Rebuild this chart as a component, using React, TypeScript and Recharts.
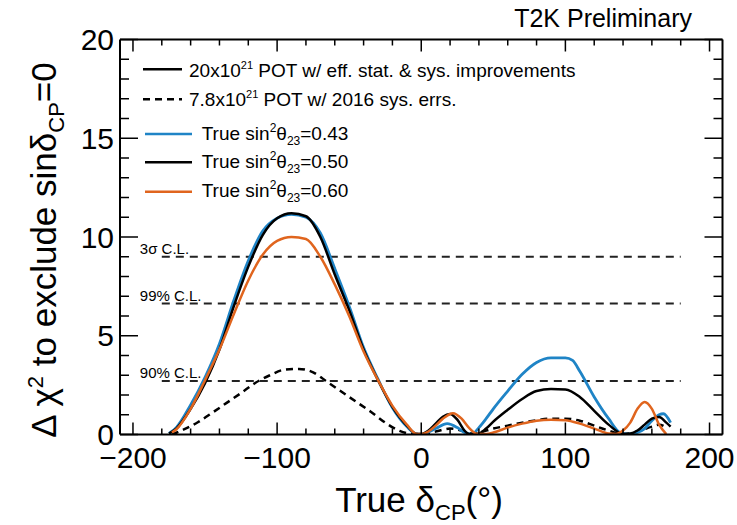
import React from "react";
import { LineChart, Line, XAxis, YAxis, ReferenceLine, Legend } from "recharts";

const FONT = "'Liberation Sans', Arial, Helvetica, sans-serif";
const BLUE = "#1f84c6";
const ORANGE = "#e0651e";

// black solid: sin^2 = 0.50, 20x10^21 POT
const blackX = [-175, -170, -160, -150, -140, -130, -120, -110, -100, -90, -80, -70, -60, -50, -40, -30, -20, -10, -3, 0, 5, 10, 15, 20, 25, 30, 34, 40, 45, 50, 60, 70, 80, 90, 100, 110, 120, 130, 140, 145, 150, 155, 160, 165, 170, 173];
const blackY = [0.05, 0.3, 1.3, 2.6, 4.3, 6.5, 8.5, 10.1, 10.95, 11.2, 11.05, 10.0, 8.1, 6.3, 4.3, 2.75, 1.4, 0.45, 0.02, 0.02, 0.2, 0.55, 0.9, 1.04, 0.75, 0.2, 0.02, 0.05, 0.3, 0.65, 1.25, 1.8, 2.2, 2.3, 2.28, 1.9, 1.2, 0.5, 0.03, 0.05, 0.2, 0.5, 0.8, 0.88, 0.6, 0.4];

// blue: sin^2 = 0.43
const blueX = [-175, -170, -160, -150, -140, -130, -120, -110, -100, -90, -80, -70, -60, -50, -40, -30, -20, -10, -3, 0, 5, 10, 18, 25, 30, 35, 40, 45, 50, 60, 70, 80, 90, 100, 105, 110, 120, 130, 138, 145, 150, 155, 160, 165, 168, 173];
const blueY = [0.05, 0.35, 1.5, 2.9, 4.6, 6.8, 8.8, 10.3, 10.95, 11.15, 11.0, 10.2, 8.4, 6.5, 4.4, 2.8, 1.35, 0.4, 0.02, 0.02, 0.12, 0.3, 0.55, 0.35, 0.1, 0.02, 0.35, 0.8, 1.3, 2.2, 3.05, 3.65, 3.88, 3.88, 3.75, 3.2, 1.9, 0.8, 0.1, 0.02, 0.1, 0.3, 0.7, 1.0, 1.05, 0.6];

// orange: sin^2 = 0.60
const orangeX = [-173, -170, -160, -150, -140, -130, -120, -110, -100, -90, -80, -70, -60, -50, -40, -30, -20, -10, -3, 0, 5, 10, 15, 22, 28, 33, 39, 45, 50, 60, 70, 80, 90, 100, 110, 120, 130, 135, 140, 145, 150, 155, 160, 165, 170];
const orangeY = [0.1, 0.25, 1.3, 2.75, 4.3, 6.1, 7.8, 9.1, 9.8, 10.0, 9.9, 9.0, 7.6, 6.0, 4.2, 2.75, 1.45, 0.5, 0.02, 0.02, 0.15, 0.45, 0.8, 1.08, 0.8, 0.35, 0.03, 0.03, 0.1, 0.35, 0.55, 0.7, 0.75, 0.72, 0.55, 0.3, 0.05, 0.03, 0.2, 0.6, 1.3, 1.65, 1.3, 0.5, 0.02];

// dashed: 7.8x10^21 POT w/ 2016 sys. errs.
const dashX = [-173, -165, -155, -145, -135, -125, -115, -105, -95, -85, -75, -65, -55, -45, -35, -25, -15, -5, 0, 10, 20, 28, 35, 40, 50, 60, 70, 80, 90, 100, 110, 120, 130, 140, 150, 160, 165, 170];
const dashY = [0, 0.25, 0.62, 1.1, 1.6, 2.1, 2.62, 3.0, 3.28, 3.32, 3.15, 2.65, 2.15, 1.65, 1.15, 0.6, 0.18, 0.02, 0.02, 0.15, 0.3, 0.2, 0.05, 0.1, 0.3, 0.45, 0.6, 0.72, 0.8, 0.8, 0.7, 0.45, 0.2, 0.03, 0.15, 0.4, 0.5, 0.35];

const clLevels = [9, 6.63, 2.71];
const clLabels = ["3σ C.L.", "99% C.L.", "90% C.L."];
const clRange = [-180, 180];

const xTicks = [-200, -180, -160, -140, -120, -100, -80, -60, -40, -20, 0, 20, 40, 60, 80, 100, 120, 140, 160, 180, 200];
const xMajor = [-200, -100, 0, 100, 200];
const yTicks = [0, 1, 2, 3, 4, 5, 6, 7, 8, 9, 10, 11, 12, 13, 14, 15, 16, 17, 18, 19, 20];
const yMajor = [0, 5, 10, 15, 20];

const toData = (xs: number[], ys: number[]) => xs.map((x, i) => ({ x, y: ys[i] }));
const fmt = (v: number) => (v < 0 ? "\u2212" + Math.abs(v) : String(v));

const XTick = ({ x, y, payload, top }: any) => {
  const major = xMajor.includes(payload.value);
  const len = major ? 12 : 6;
  return (
    <g>
      <line x1={x} x2={x} y1={y} y2={top ? y + len : y - len} stroke="#000" strokeWidth={1.5} />
      {major && !top && (
        <text x={x} y={y + 33} textAnchor="middle" fontSize={30} fontFamily={FONT} fill="#000">
          {fmt(payload.value)}
        </text>
      )}
    </g>
  );
};

const YTick = ({ x, y, payload, right }: any) => {
  const major = yMajor.includes(payload.value);
  const len = major ? 18 : 9;
  return (
    <g>
      <line x1={x} x2={right ? x - len : x + len} y1={y} y2={y} stroke="#000" strokeWidth={1.5} />
      {major && !right && (
        <text x={x - 6} y={y + 10.5} textAnchor="end" fontSize={30} fontFamily={FONT} fill="#000">
          {payload.value}
        </text>
      )}
    </g>
  );
};

const XTitle = () => (
  <text x={419} y={512} textAnchor="middle" fontSize={35} fontFamily={FONT} fill="#000">
    True δ<tspan dy={8} fontSize={22}>CP</tspan>
    <tspan dy={-8}>(°)</tspan>
  </text>
);

const YTitle = () => (
  <text transform="rotate(-90)" x={-250} y={56} textAnchor="middle" fontSize={35} fontFamily={FONT} fill="#000">
    Δ χ<tspan dy={-13} fontSize={22}>2</tspan>
    <tspan dy={13}> to exclude sinδ</tspan>
    <tspan dy={8} fontSize={22}>CP</tspan>
    <tspan dy={-8}>=0</tspan>
  </text>
);

const TopTitle = () => (
  <text x={692} y={27} textAnchor="end" fontSize={25} fontFamily={FONT} fill="#000">
    T2K Preliminary
  </text>
);

const ClLabel = ({ viewBox, text }: any) => (
  <text x={viewBox.x - 22} y={viewBox.y - 3} fontSize={15} fontFamily={FONT} fill="#000">
    {text}
  </text>
);

const SinLabel = ({ x, y, value }: { x: number; y: number; value: string }) => (
  <text x={x} y={y} fontSize={19} fontFamily={FONT} fill="#000">
    True sin<tspan dy={-8} fontSize={12}>2</tspan>
    <tspan dy={8}>θ</tspan>
    <tspan dy={5} fontSize={12}>23</tspan>
    <tspan dy={-5}>={value}</tspan>
  </text>
);

const LegendBox = () => (
  <svg width={737} height={525} style={{ position: "absolute", left: 0, top: 0 }}>
    <line x1={143} x2={182} y1={69.3} y2={69.3} stroke="#000" strokeWidth={2.5} />
    <text x={189} y={76.7} fontSize={19} fontFamily={FONT} fill="#000">
      20x10<tspan dy={-8} fontSize={11}>21</tspan>
      <tspan dy={8}> POT w/ eff. stat. &amp; sys. improvements</tspan>
    </text>
    <line x1={143} x2={182} y1={99.3} y2={99.3} stroke="#000" strokeWidth={2.5} strokeDasharray="7 5" />
    <text x={189} y={106} fontSize={19} fontFamily={FONT} fill="#000">
      7.8x10<tspan dy={-8} fontSize={11}>21</tspan>
      <tspan dy={8}> POT w/ 2016 sys. errs.</tspan>
    </text>
    <line x1={145} x2={192} y1={134} y2={134} stroke={BLUE} strokeWidth={2.5} />
    <SinLabel x={201.7} y={140} value="0.43" />
    <line x1={145} x2={192} y1={162.3} y2={162.3} stroke="#000" strokeWidth={2.5} />
    <SinLabel x={201.7} y={168.4} value="0.50" />
    <line x1={145} x2={192} y1={191.7} y2={191.7} stroke={ORANGE} strokeWidth={2.5} />
    <SinLabel x={201.7} y={197.4} value="0.60" />
  </svg>
);

const axisLine = { stroke: "#000", strokeWidth: 2 };

export default function App() {
  return (
    <div style={{ position: "absolute", left: 0, top: 0, width: 737, height: 525, background: "#fff" }}>
      <LineChart width={737} height={525} margin={{ top: 38.5, right: 13.5, bottom: 89.5, left: 119 }}>
        <XAxis
          dataKey="x"
          type="number"
          domain={[-209, 209]}
          allowDataOverflow
          ticks={xTicks}
          interval={0}
          height={1}
          tickSize={0}
          tickMargin={0}
          tickLine={false}
          axisLine={axisLine}
          tick={<XTick />}
          label={<XTitle />}
        />
        <XAxis
          xAxisId="top"
          orientation="top"
          dataKey="x"
          type="number"
          domain={[-209, 209]}
          allowDataOverflow
          ticks={xTicks}
          interval={0}
          height={1}
          tickSize={0}
          tickMargin={0}
          tickLine={false}
          axisLine={axisLine}
          tick={<XTick top />}
          label={<TopTitle />}
        />
        <YAxis
          type="number"
          domain={[0, 20]}
          allowDataOverflow
          ticks={yTicks}
          interval={0}
          width={1}
          tickSize={0}
          tickMargin={0}
          tickLine={false}
          axisLine={axisLine}
          tick={<YTick />}
          label={<YTitle />}
        />
        <YAxis
          yAxisId="right"
          orientation="right"
          type="number"
          domain={[0, 20]}
          allowDataOverflow
          ticks={yTicks}
          interval={0}
          width={1}
          tickSize={0}
          tickMargin={0}
          tickLine={false}
          axisLine={axisLine}
          tick={<YTick right />}
        />
        {clLevels.map((lvl, i) => (
          <ReferenceLine
            key={clLabels[i]}
            segment={[
              { x: clRange[0], y: lvl },
              { x: clRange[1], y: lvl },
            ]}
            stroke="#222"
            strokeWidth={2}
            strokeDasharray="8 6"
            label={<ClLabel text={clLabels[i]} />}
          />
        ))}
        <Line data={toData(dashX, dashY)} dataKey="y" type="monotone" stroke="#000" strokeWidth={2.5} strokeDasharray="7 5" dot={false} isAnimationActive={false} />
        <Line data={toData(blueX, blueY)} dataKey="y" type="monotone" stroke={BLUE} strokeWidth={2.8} dot={false} isAnimationActive={false} />
        <Line data={toData(blackX, blackY)} dataKey="y" type="monotone" stroke="#000" strokeWidth={2.5} dot={false} isAnimationActive={false} />
        <Line data={toData(orangeX, orangeY)} dataKey="y" type="monotone" stroke={ORANGE} strokeWidth={2.5} dot={false} isAnimationActive={false} />
        <Legend
          layout="vertical"
          align="center"
          verticalAlign="middle"
          content={<LegendBox />}
          wrapperStyle={{ position: "absolute", left: 0, top: 0, width: 737, height: 525, pointerEvents: "none" }}
        />
      </LineChart>
    </div>
  );
}
